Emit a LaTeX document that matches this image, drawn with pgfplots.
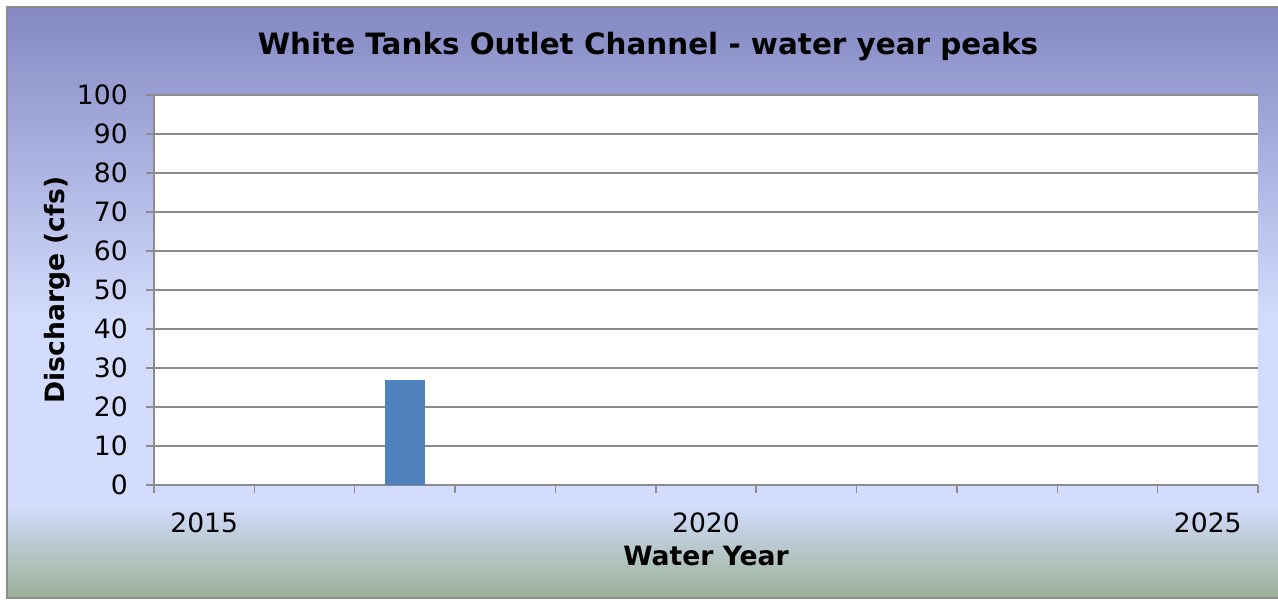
\documentclass[border=0pt]{standalone}
\usepackage{pgfplots}
\pgfplotsset{compat=1.18}
\usepackage{fontspec}
\setmainfont{DejaVu Sans}
\definecolor{ctop}{HTML}{8488C3}
\definecolor{clight}{HTML}{D3DCFD}
\definecolor{cbot}{HTML}{9AB197}
\definecolor{gridgray}{HTML}{8C8C8C}
\definecolor{barblue}{HTML}{4F81BD}
\pgfdeclareverticalshading{bg}{100bp}{color(0bp)=(cbot); color(25bp)=(cbot); color(32.9bp)=(clight); color(48.5bp)=(clight); color(75bp)=(ctop); color(100bp)=(ctop)}
\begin{document}
\fontsize{13.3}{16}\selectfont
\begin{tikzpicture}
\useasboundingbox (0,0) rectangle (639pt,299.5pt);
\shade[shading=bg] (3.5pt,0.5pt) rectangle (641pt,296pt);
\draw[gridgray, line width=1pt] (3.5pt,0.5pt) rectangle (641pt,296pt);
\begin{axis}[
  at={(77pt,57pt)}, anchor=south west,
  scale only axis, width=552pt, height=195pt,
  xmin=2014.5, xmax=2025.5, ymin=0, ymax=100,
  axis x line=bottom, axis y line=left,
  axis line style={-, gridgray, line width=0.75pt},
  axis background/.style={fill=white},
  ytick={0,10,...,100},
  xtick={2015,2020,2025},
  xticklabels={2015,2020,2025},
  minor xtick={2014.5,2015.5,...,2025.5},
  tick align=outside,
  major x tick style={draw=none},
  minor tick length=4pt,
  major tick length=4pt,
  every tick/.style={gridgray, line width=0.75pt},
  ymajorgrids,
  grid style={gridgray, line width=0.75pt},
  /pgf/number format/assume math mode=true,
  ticklabel style={font=\fontsize{13.3}{16}\selectfont},
  yticklabel style={xshift=-4.5pt},
  xticklabel style={yshift=-5pt},
  xlabel={\textbf{Water Year}},
  ylabel={\textbf{Discharge (cfs)}},
  every axis x label/.style={at={(rel axis cs:0.5,0)}, yshift=-35.5pt, anchor=center},
  every axis y label/.style={at={(rel axis cs:0,0.5)}, xshift=-48.5pt, rotate=90, anchor=center},
  label style={font=\fontsize{13.3}{16}\selectfont},
  ybar, bar width=20pt,
  clip=false,
]
\addplot[fill=barblue, draw=none] coordinates {(2017,27)};
\end{axis}
\node[font=\fontsize{14.7}{17}\selectfont\bfseries] at (324pt,276pt) {White Tanks Outlet Channel - water year peaks};
\end{tikzpicture}
\end{document}
